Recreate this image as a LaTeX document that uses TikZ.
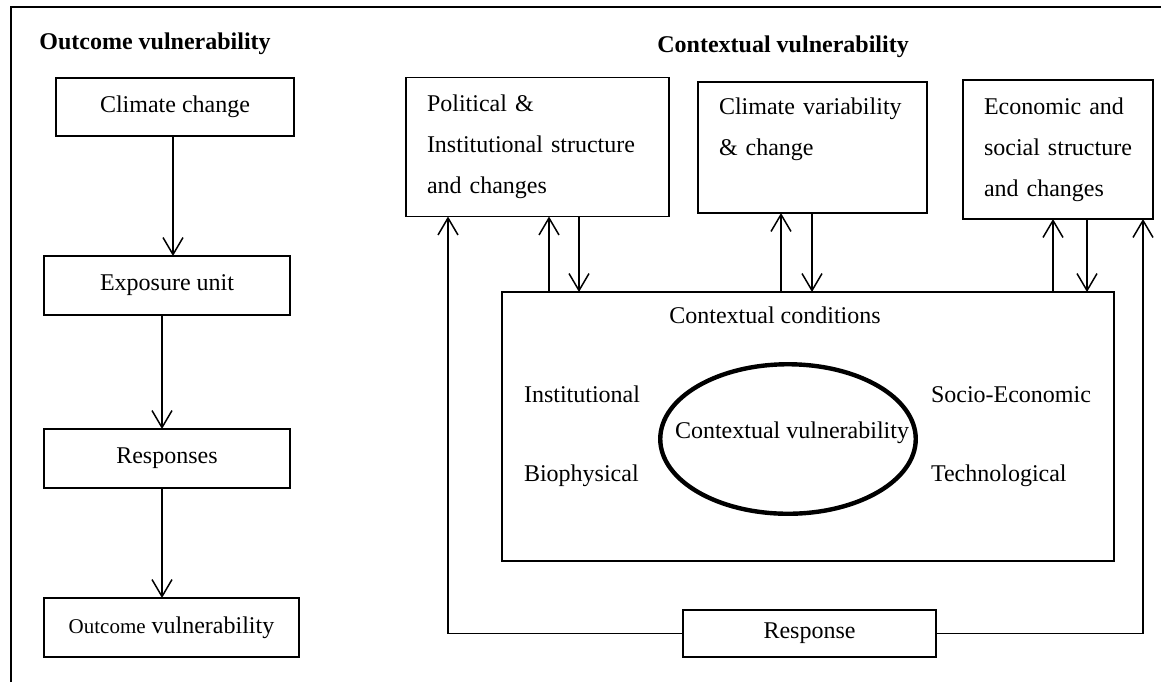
\documentclass[tikz,border=0pt]{standalone}
\usepackage{fontspec}
\setmainfont{Liberation Serif}
\usetikzlibrary{arrows.meta,shapes.geometric}
\begin{document}
\begin{tikzpicture}[x=0.5pt,y=-0.5pt,
  txt/.style={font=\fontsize{12}{20.5}\selectfont, inner sep=0pt, outer sep=0pt},
  headline/.style={font=\fontsize{12}{14}\selectfont\bfseries, inner sep=0pt},
  box/.style={draw, line width=0.9pt, inner sep=0pt, outer sep=0pt, txt},
  thinbox/.style={box, line width=0.75pt},
  arr/.style={line width=0.75pt, -{Straight Barb[length=8.5pt,width=10pt]}},
  link/.style={line width=0.75pt},
  frame/.style={line width=1pt}]
\useasboundingbox (0,0) rectangle (1161,682);

% outer frame (top and left edges)
\draw[frame] (11,682) -- (11,7) -- (1161,7);

% ---------- left column: outcome vulnerability ----------
\node[headline, anchor=base west] (otitle) at (39,49) {Outcome vulnerability};

\node[box, minimum width=119pt, minimum height=29pt] (cc) at (175,107) {Climate change};
\node[box, minimum width=123pt, minimum height=29.5pt] (exp) at (167,285.5) {Exposure unit};
\node[box, minimum width=123pt, minimum height=29.5pt] (resp) at (167,458.5) {Responses};
\node[box, minimum width=127.5pt, minimum height=29.5pt] (ov) at (171.5,627.5)
  {{\fontsize{10.5}{12}\selectfont Outcome} vulnerability};

\draw[arr] (cc.south -| 173,0) -- (exp.north -| 173,0);
\draw[arr] (exp.south -| 162,0) -- (resp.north -| 162,0);
\draw[arr] (resp.south -| 162,0) -- (ov.north -| 162,0);

% ---------- right part: contextual vulnerability ----------
\node[headline, anchor=base west] (ctitle) at (657,52) {Contextual vulnerability};

\node[box, minimum width=131.5pt, minimum height=69.5pt, text width=110.5pt, align=left]
  (pol) at (537.5,147) {Political \&\\Institutional structure\\and changes};
\node[box, minimum width=114.5pt, minimum height=65.5pt, text width=93.5pt, align=left]
  (cv) at (812.5,147.5) {Climate variability\\\& change\\\mbox{}};
\node[box, minimum width=95pt, minimum height=69.5pt, text width=74pt, align=left]
  (eco) at (1058,149.5) {Economic and\\social structure\\and changes};

% contextual conditions panel
\node[thinbox, minimum width=306pt, minimum height=134.5pt] (ctx) at (808,426.5) {};
\node[txt, anchor=base] (ctxcond) at (775,323) {Contextual conditions};
\node[txt, anchor=base west] (inst) at (524,402) {Institutional};
\node[txt, anchor=base west] (bio) at (524,481) {Biophysical};
\node[txt, anchor=base west] (socio) at (931,402) {Socio-Economic};
\node[txt, anchor=base west] (tech) at (931,481) {Technological};
\node[ellipse, draw, line width=2.2pt, inner sep=0pt,
      minimum width=127.75pt, minimum height=74.75pt] (ell) at (788,439) {};
\node[txt, anchor=base] (cvtext) at (792,438) {Contextual vulnerability};

% feedback response box
\node[thinbox, minimum width=126.5pt, minimum height=23.5pt] (rsp) at (809.5,633.5) {Response};

% links between the structures and the contextual conditions
\draw[arr] (ctx.north -| 549,0) -- (pol.south -| 549,0);
\draw[arr] (pol.south -| 579,0) -- (ctx.north -| 579,0);
\draw[arr] (ctx.north -| 781,0) -- (cv.south -| 781,0);
\draw[arr] (cv.south -| 812,0) -- (ctx.north -| 812,0);
\draw[arr] (ctx.north -| 1053,0) -- (eco.south -| 1053,0);
\draw[arr] (eco.south -| 1087,0) -- (ctx.north -| 1087,0);

% response feedback loop
\draw[arr] (rsp.west) -| (pol.south -| 448,0);
\draw[arr] (rsp.east) -| (eco.south -| 1143,0);
\end{tikzpicture}
\end{document}
